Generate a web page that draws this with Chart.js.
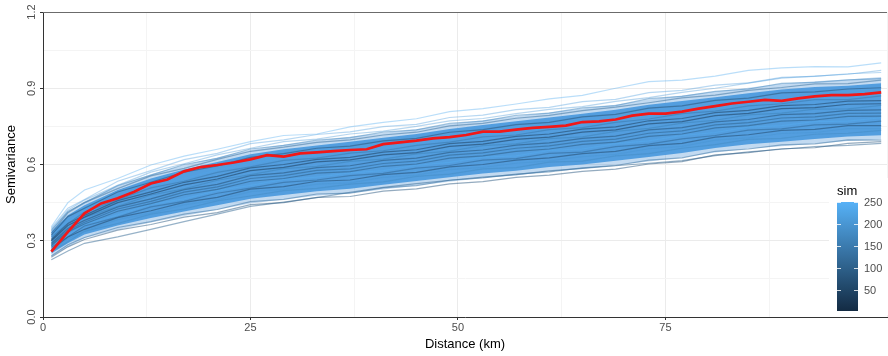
<!DOCTYPE html>
<html>
<head>
<meta charset="utf-8">
<script src="https://cdn.jsdelivr.net/npm/chart.js@4"></script>
<style>
  body { margin: 0; background: #fff; }
</style>
</head>
<body>
<canvas id="myChart" width="888" height="356"></canvas>
<script>
// semivariogram: simulated envelopes + observed (red)

const dist = [1, 3, 5, 9, 13, 17, 21, 25, 29, 33, 37, 41, 45, 49, 53, 57, 61, 65, 69, 73, 77, 81, 85, 89, 93, 97, 101];

// dense core of the simulations, and its softer outer fringe
const bandLow  = [.25, .29, .325, .36, .39, .415, .44, .465, .48, .495, .505, .52, .535, .55, .565, .575, .59, .60, .615, .63, .645, .665, .68, .69, .70, .71, .715];
const bandHigh = [.335, .40, .44, .50, .545, .58, .61, .64, .66, .675, .69, .705, .72, .74, .755, .77, .785, .80, .815, .835, .85, .865, .88, .895, .905, .91, .92];
const outerLow  = [.238, .275, .31, .343, .372, .397, .422, .447, .462, .477, .487, .502, .517, .532, .547, .557, .572, .582, .597, .612, .627, .647, .662, .672, .682, .692, .698];
const outerHigh = [.345, .415, .455, .515, .562, .598, .628, .658, .678, .693, .709, .724, .739, .759, .774, .79, .805, .82, .835, .856, .871, .887, .902, .918, .928, .934, .944];

// individual simulation curves (sim id + values at dist)
const simIds = [240, 215, 205, 170, 120, 60, 230, 140, 25, 10, 160, 55, 90, 75, 245, 100, 40, 200, 180, 130, 85, 110];
const simValues = [
  [.355, .45, .50, .545, .598, .633, .66, .69, .714, .72, .748, .766, .78, .808, .82, .838, .858, .872, .90, .926, .932, .948, .97, .98, .985, .984, 1.0],
  [.35, .428, .462, .534, .576, .619, .644, .682, .697, .718, .728, .749, .758, .785, .794, .816, .825, .847, .856, .883, .892, .912, .921, .943, .947, .957, .962],
  [.345, .42, .46, .518, .57, .603, .638, .664, .69, .70, .72, .731, .75, .772, .781, .80, .817, .828, .848, .863, .884, .90, .92, .94, .948, .955, .97],
  [.34, .415, .449, .517, .558, .60, .624, .661, .675, .696, .706, .727, .736, .762, .771, .793, .802, .823, .832, .859, .868, .888, .897, .919, .923, .933, .938],
  [.33, .41, .45, .505, .555, .585, .62, .652, .668, .687, .697, .716, .727, .752, .762, .782, .793, .812, .826, .843, .862, .873, .892, .903, .917, .918, .932],
  [.322, .395, .428, .492, .53, .57, .594, .628, .643, .664, .672, .693, .703, .727, .737, .757, .766, .787, .797, .822, .831, .852, .861, .882, .886, .897, .902],
  [.32, .375, .42, .47, .517, .545, .579, .603, .626, .637, .656, .666, .685, .70, .72, .729, .748, .758, .778, .792, .811, .823, .843, .852, .866, .868, .881],
  [.315, .368, .413, .461, .508, .534, .569, .591, .616, .625, .645, .654, .675, .688, .709, .716, .737, .745, .766, .779, .80, .81, .831, .839, .855, .855, .87],
  [.305, .368, .40, .458, .492, .53, .553, .587, .60, .62, .628, .649, .658, .682, .691, .711, .72, .739, .748, .772, .781, .804, .813, .832, .836, .849, .851],
  [.30, .36, .393, .45, .484, .52, .543, .576, .589, .61, .618, .638, .647, .671, .68, .699, .708, .727, .736, .76, .769, .792, .801, .82, .824, .837, .839],
  [.30, .35, .392, .435, .48, .504, .538, .56, .584, .593, .612, .621, .642, .653, .674, .681, .702, .709, .73, .742, .763, .774, .795, .802, .818, .819, .833],
  [.29, .348, .38, .433, .465, .501, .522, .556, .567, .588, .595, .616, .625, .648, .657, .676, .685, .703, .712, .736, .745, .768, .777, .796, .80, .813, .815],
  [.285, .34, .373, .425, .455, .491, .512, .545, .556, .577, .583, .604, .613, .637, .646, .664, .673, .691, .70, .723, .732, .756, .765, .783, .787, .801, .802],
  [.28, .335, .366, .416, .446, .481, .502, .534, .545, .566, .572, .593, .602, .625, .634, .652, .661, .679, .688, .711, .72, .744, .753, .771, .775, .789, .79],
  [.279, .322, .365, .402, .443, .465, .497, .518, .541, .55, .567, .576, .597, .608, .629, .634, .655, .661, .682, .693, .714, .726, .747, .753, .769, .771, .784],
  [.274, .316, .358, .393, .433, .455, .487, .507, .53, .539, .556, .565, .586, .596, .617, .623, .644, .649, .67, .68, .701, .714, .735, .74, .756, .759, .771],
  [.265, .315, .345, .391, .418, .451, .471, .503, .513, .534, .539, .56, .569, .591, .60, .617, .626, .643, .652, .674, .683, .708, .717, .734, .738, .753, .753],
  [.26, .308, .338, .383, .409, .441, .461, .493, .502, .523, .528, .549, .558, .58, .589, .605, .614, .631, .64, .662, .671, .696, .705, .722, .726, .741, .741],
  [.258, .296, .337, .368, .405, .425, .457, .476, .497, .506, .523, .532, .553, .562, .583, .588, .609, .613, .634, .643, .664, .678, .699, .703, .719, .723, .734],
  [.24, .284, .313, .352, .375, .405, .423, .454, .463, .484, .487, .508, .517, .538, .547, .562, .571, .587, .596, .617, .626, .652, .661, .677, .681, .697, .696],
  [.235, .276, .305, .342, .364, .393, .411, .442, .45, .471, .474, .495, .504, .524, .533, .549, .558, .573, .582, .602, .611, .638, .647, .662, .666, .683, .69],
  [.225, .26, .29, .315, .345, .375, .405, .435, .452, .47, .49, .51, .525, .538, .55, .56, .575, .585, .595, .605, .615, .635, .65, .66, .67, .675, .683]
];

// observed semivariogram
const obsDist = [1, 3, 5, 7, 9, 11, 13, 15, 17, 19, 21, 23, 25, 27, 29, 31, 33, 35, 37, 39, 41, 43, 45, 47, 49, 51, 53, 55, 57, 59, 61, 63, 65, 67, 69, 71, 73, 75, 77, 79, 81, 83, 85, 87, 89, 91, 93, 95, 97, 99, 101];
const obsValues = [.257, .335, .408, .447, .467, .493, .525, .541, .573, .59, .598, .608, .62, .637, .631, .644, .648, .653, .657, .66, .68, .687, .694, .703, .708, .716, .729, .729, .737, .744, .748, .753, .767, .77, .777, .792, .80, .80, .808, .82, .83, .84, .847, .854, .85, .86, .868, .873, .873, .877, .884];

const legendTicks = [50, 100, 150, 200, 250];

const lo = [19, 43, 67], hi = [86, 177, 247];
function simColor(s, a) {
  const t = (s - 1) / 249;
  const c = lo.map((v, i) => Math.round(v + (hi[i] - v) * t));
  return `rgba(${c[0]},${c[1]},${c[2]},${a})`;
}

const pts = (xs, ys) => xs.map((x, i) => ({ x: x, y: ys[i] }));
const isMult = (v, m) => Math.abs(v / m - Math.round(v / m)) < 1e-6;

const datasets = [
  {
    data: pts(obsDist, obsValues),
    borderColor: '#f21818',
    borderWidth: 2.7,
    order: 0
  }
];
simValues.forEach((vals, i) => {
  const s = simIds[i];
  datasets.push({
    data: pts(dist, vals),
    borderColor: simColor(s, s > 200 ? 0.4 : 0.5),
    borderWidth: 1.2,
    order: 1
  });
});
// fringe first, core on top of it
datasets.push({ data: pts(dist, outerLow), borderWidth: 0, order: 3 });
datasets.push({
  data: pts(dist, outerHigh),
  borderWidth: 0,
  backgroundColor: 'rgba(80,150,215,0.35)',
  fill: '-1',
  order: 3
});
datasets.push({ data: pts(dist, bandLow), borderWidth: 0, order: 2 });
datasets.push({
  data: pts(dist, bandHigh),
  borderWidth: 0,
  backgroundColor: 'rgba(72,152,222,0.9)',
  fill: '-1',
  order: 2
});

// top border + colour bar legend
const extras = {
  id: 'extras',
  afterDraw(chart) {
    const c = chart.ctx, a = chart.chartArea;
    c.save();
    c.strokeStyle = '#6b6b6b';
    c.lineWidth = 1;
    c.beginPath();
    c.moveTo(a.left, a.top + 0.5);
    c.lineTo(a.right, a.top + 0.5);
    c.stroke();

    // legend box
    c.fillStyle = '#fff';
    c.fillRect(829, 178, 59, 137);
    const bx = 837, bw = 21, bTop = 202, bBot = 311;
    const vy = v => bBot - (v - 1) / 249 * (bBot - bTop);
    const g = c.createLinearGradient(0, bBot, 0, bTop);
    for (let k = 0; k <= 10; k++) g.addColorStop(k / 10, simColor(1 + 249 * k / 10, 1));
    c.fillStyle = g;
    c.fillRect(bx, bTop, bw, bBot - bTop);
    c.fillStyle = '#000';
    c.font = '13px "Liberation Sans", Arial, sans-serif';
    c.textBaseline = 'middle';
    c.textAlign = 'left';
    c.fillText('sim', 837, 191);
    c.font = '11px "Liberation Sans", Arial, sans-serif';
    c.fillStyle = '#4d4d4d';
    c.strokeStyle = 'rgba(255,255,255,0.8)';
    legendTicks.forEach(v => {
      const y = Math.round(vy(v)) + 0.5;
      c.beginPath();
      c.moveTo(bx, y); c.lineTo(bx + 4, y);
      c.moveTo(bx + bw - 4, y); c.lineTo(bx + bw, y);
      c.stroke();
      c.fillText(String(v), 864, y);
    });
    c.restore();
  }
};

const gridCol = (m) => (ctx) => isMult(ctx.tick.value, m) ? '#ebebeb' : '#f4f4f4';
const tickCol = (m) => (ctx) => isMult(ctx.tick.value, m) ? '#333' : 'rgba(0,0,0,0)';

new Chart(document.getElementById('myChart'), {
  type: 'line',
  data: { datasets: datasets },
  plugins: [extras],
  options: {
    responsive: false,
    animation: false,
    layout: { padding: { top: 12, right: 1, left: 0, bottom: 0 } },
    elements: { point: { radius: 0 }, line: { tension: 0 } },
    plugins: { legend: { display: false }, tooltip: { enabled: false } },
    scales: {
      x: {
        type: 'linear',
        min: 0,
        max: 101.7,
        afterFit: s => { s.height = 39; },
        ticks: {
          stepSize: 12.5,
          autoSkip: false,
          maxRotation: 0,
          padding: 1,
          color: '#4d4d4d',
          font: { family: '"Liberation Sans", Arial, sans-serif', size: 11 },
          callback: v => (isMult(v, 25) ? String(v) : '')
        },
        grid: { color: gridCol(25), tickColor: tickCol(25), tickLength: 3, lineWidth: 1 },
        border: { color: '#333', width: 1 },
        title: {
          display: true,
          text: 'Distance (km)',
          color: '#000',
          font: { family: '"Liberation Sans", Arial, sans-serif', size: 13 },
          padding: { top: 4, bottom: 4 }
        }
      },
      y: {
        min: 0,
        max: 1.2,
        afterFit: s => { s.width = 43; },
        ticks: {
          stepSize: 0.15,
          autoSkip: false,
          minRotation: 90,
          maxRotation: 90,
          crossAlign: 'center',
          padding: 0,
          color: '#4d4d4d',
          font: { family: '"Liberation Sans", Arial, sans-serif', size: 11 },
          callback: v => (isMult(v, 0.3) ? v.toFixed(1) : '')
        },
        grid: { color: gridCol(0.3), tickColor: tickCol(0.3), tickLength: 3, lineWidth: 1 },
        border: { color: '#333', width: 1 },
        title: {
          display: true,
          text: 'Semivariance',
          color: '#000',
          font: { family: '"Liberation Sans", Arial, sans-serif', size: 13 },
          padding: { top: 4, bottom: 4 }
        }
      }
    }
  }
});
</script>
</body>
</html>
